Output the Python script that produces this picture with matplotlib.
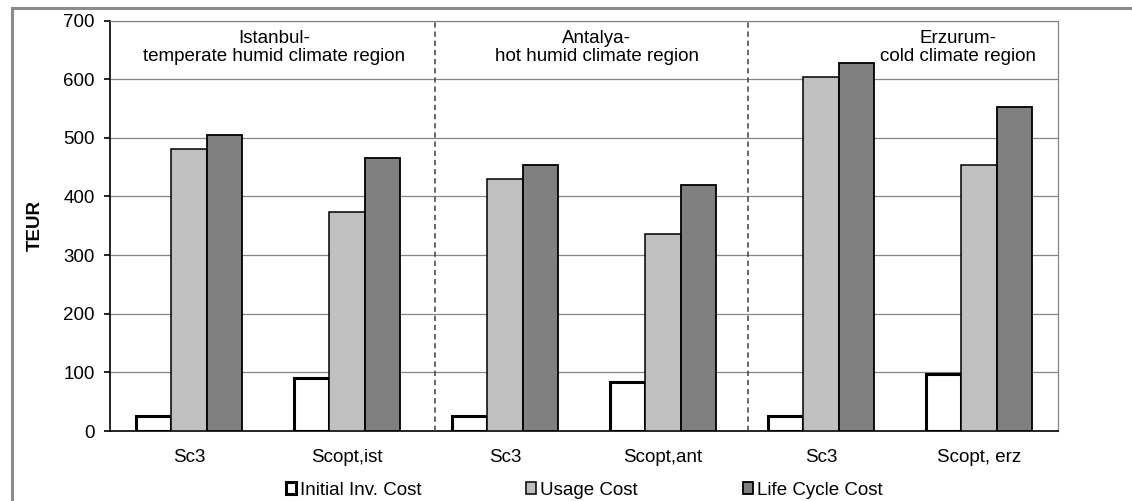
import matplotlib
matplotlib.use("Agg")
import matplotlib.pyplot as plt
import numpy as np
from matplotlib.patches import Rectangle

plt.rcParams['font.family'] = ['Liberation Sans', 'DejaVu Sans']

categories = ['Sc3', 'Scopt,ist', 'Sc3', 'Scopt,ant', 'Sc3', 'Scopt, erz']
initial_inv = [25, 90, 25, 83, 25, 97]
usage_cost = [481, 373, 429, 336, 603, 453]
life_cycle = [505, 465, 453, 419, 627, 552]

regions = ['Istanbul-\ntemperate humid climate region',
           'Antalya-\nhot humid climate region',
           'Erzurum-\ncold climate region']
region_x = [0.54, 2.58, 4.87]
dividers = [1.56, 3.54]

W, H = 1132, 501
fig = plt.figure(figsize=(W / 100, H / 100), dpi=100)
ax = fig.add_axes([110 / W, 70 / H, 948 / W, 410.5 / H])

x = np.arange(len(categories))
w = 0.222
ax.bar(x - w, initial_inv, w, color='white', edgecolor='black', linewidth=2.2,
       label='Initial Inv. Cost', zorder=3)
ax.bar(x, usage_cost, w, color='#c0c0c0', edgecolor='black', linewidth=1.1,
       label='Usage Cost', zorder=3)
ax.bar(x + w, life_cycle, w, color='#808080', edgecolor='black', linewidth=1.3,
       label='Life Cycle Cost', zorder=3)

ax.set_xlim(-0.5, len(categories) - 0.5)
ax.set_ylim(0, 700)
ax.set_yticks(range(0, 701, 100))
ax.set_xticks(x)
ax.set_xticklabels(categories)
ax.yaxis.grid(True, color='#868686', linewidth=0.9, zorder=0)
ax.set_axisbelow(True)

for side in ['top', 'right']:
    ax.spines[side].set_color('#868686')
    ax.spines[side].set_linewidth(0.9)
for side in ['left', 'bottom']:
    ax.spines[side].set_color('black')
    ax.spines[side].set_linewidth(1.2)

ax.tick_params(axis='y', length=4, width=1.2, pad=7, labelsize=13.5)
ax.tick_params(axis='x', length=0, pad=13, labelsize=13.5)
ax.set_ylabel('TEUR', fontsize=13.5, fontweight='bold', labelpad=14)

for d in dividers:
    ax.axvline(d, color='#404040', linestyle=(0, (3.5, 2.5)), linewidth=1.1, zorder=4)

for txt, rx in zip(regions, region_x):
    ax.text(rx, 654, txt, ha='center', va='center', fontsize=13.5,
            linespacing=1.1, zorder=5)

ax.legend(loc='upper center', bbox_to_anchor=(0.5, -0.105), ncol=3, frameon=False,
          fontsize=13.5, handlelength=0.55, handleheight=0.55, handletextpad=0.2,
          columnspacing=5.6, borderaxespad=0)

# grey frame around the whole figure
fig.add_artist(Rectangle((12 / W, -0.1), 1.2, (H - 8) / H + 0.1,
                         transform=fig.transFigure, fill=False,
                         edgecolor='#8c8c8c', linewidth=2.2))

fig.savefig('out.png', dpi=100, facecolor='white')
